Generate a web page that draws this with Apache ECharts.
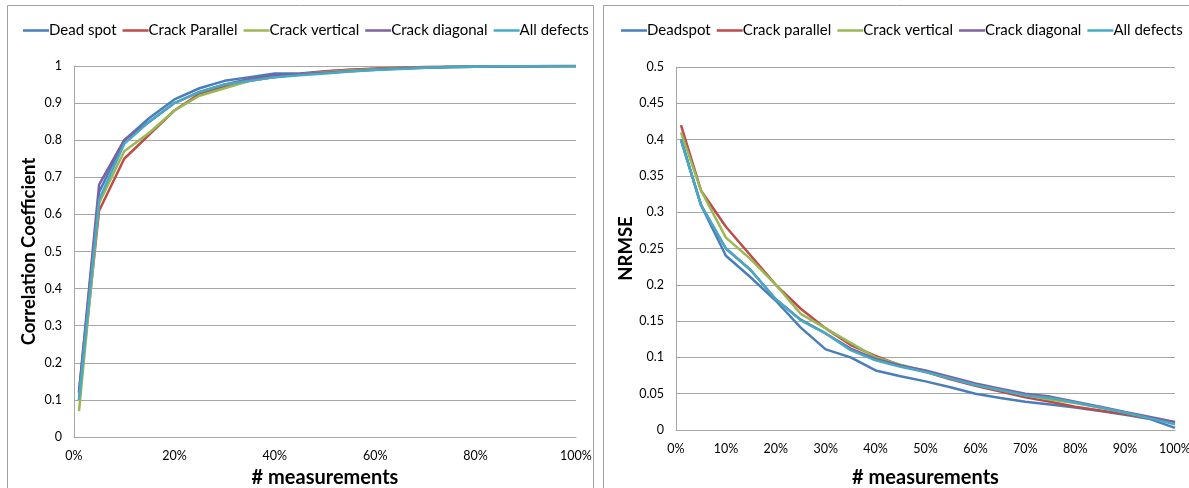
<!DOCTYPE html>
<html>
<head>
<meta charset="utf-8">
<script src="https://cdn.jsdelivr.net/npm/echarts@6/dist/echarts.min.js"></script>
<style>
  html, body { margin: 0; padding: 0; background: #fff; }
  #chart { width: 1189px; height: 488px; }
</style>
</head>
<body>
<div id="chart"></div>
<script>
// Fraction of measurements used (percent)
const measurements = [1, 5, 10, 15, 20, 25, 30, 35, 40, 45, 50, 55, 60, 65, 70, 75, 80, 85, 90, 95, 100];

// Correlation coefficient per defect type
const corrDeadSpot      = [0.12, 0.66, 0.80, 0.86, 0.91, 0.94, 0.96, 0.97, 0.98, 0.98, 0.986, 0.99, 0.992, 0.994, 0.996, 0.997, 0.998, 0.998, 0.999, 0.999, 1.0];
const corrCrackParallel = [0.10, 0.61, 0.75, 0.815, 0.88, 0.925, 0.945, 0.96, 0.97, 0.978, 0.985, 0.99, 0.993, 0.995, 0.997, 0.998, 0.998, 0.999, 0.999, 1.0, 1.0];
const corrCrackVertical = [0.07, 0.63, 0.77, 0.82, 0.88, 0.92, 0.94, 0.96, 0.97, 0.977, 0.983, 0.988, 0.991, 0.994, 0.996, 0.997, 0.998, 0.999, 0.999, 1.0, 1.0];
const corrCrackDiagonal = [0.12, 0.68, 0.80, 0.85, 0.90, 0.93, 0.95, 0.965, 0.975, 0.978, 0.982, 0.986, 0.99, 0.993, 0.995, 0.997, 0.998, 0.999, 0.999, 1.0, 1.0];
const corrAllDefects    = [0.10, 0.64, 0.79, 0.85, 0.90, 0.93, 0.95, 0.96, 0.97, 0.975, 0.98, 0.985, 0.989, 0.992, 0.995, 0.997, 0.998, 0.999, 0.999, 1.0, 1.0];

// NRMSE per defect type
const nrmseDeadspot      = [0.40, 0.31, 0.24, 0.21, 0.178, 0.141, 0.111, 0.10, 0.082, 0.074, 0.067, 0.059, 0.05, 0.044, 0.039, 0.035, 0.031, 0.026, 0.021, 0.015, 0.003];
const nrmseCrackParallel = [0.42, 0.33, 0.28, 0.24, 0.20, 0.167, 0.14, 0.117, 0.102, 0.089, 0.08, 0.07, 0.061, 0.053, 0.045, 0.039, 0.032, 0.027, 0.022, 0.016, 0.01];
const nrmseCrackVertical = [0.41, 0.33, 0.265, 0.235, 0.20, 0.16, 0.14, 0.12, 0.10, 0.09, 0.081, 0.072, 0.063, 0.055, 0.048, 0.042, 0.037, 0.031, 0.024, 0.017, 0.009];
const nrmseCrackDiagonal = [0.40, 0.31, 0.25, 0.22, 0.18, 0.152, 0.133, 0.112, 0.098, 0.089, 0.082, 0.073, 0.064, 0.057, 0.05, 0.046, 0.039, 0.032, 0.025, 0.018, 0.011];
const nrmseAllDefects    = [0.40, 0.31, 0.25, 0.22, 0.18, 0.151, 0.133, 0.11, 0.096, 0.087, 0.08, 0.071, 0.062, 0.055, 0.048, 0.044, 0.038, 0.031, 0.024, 0.016, 0.008];

const leftNames  = ['Dead spot', 'Crack Parallel', 'Crack vertical', 'Crack diagonal', 'All defects'];
const rightNames = ['Deadspot', 'Crack parallel', 'Crack vertical', 'Crack diagonal', 'All defects'];
const palette = ['#4a7ebb', '#be4b48', '#98b954', '#7d60a0', '#46aac5'];

const font = 'Lato, "Open Sans", "Liberation Sans", sans-serif';

function pairs(ys) { return measurements.map((x, i) => [x, ys[i]]); }

function lineSeries(name, ys, idx, color) {
  return {
    name: name, type: 'line', xAxisIndex: idx, yAxisIndex: idx,
    data: pairs(ys), showSymbol: false, symbol: 'none',
    lineStyle: { width: 2.5, color: color }, itemStyle: { color: color },
    animation: false
  };
}

const leftData  = [corrDeadSpot, corrCrackParallel, corrCrackVertical, corrCrackDiagonal, corrAllDefects];
const rightData = [nrmseDeadspot, nrmseCrackParallel, nrmseCrackVertical, nrmseCrackDiagonal, nrmseAllDefects];

const series = [];
leftNames.forEach((n, i) => series.push(lineSeries(n, leftData[i], 0, palette[i])));
rightNames.forEach((n, i) => series.push(lineSeries(n, rightData[i], 1, palette[i])));

const axisText = { color: '#000', fontFamily: font, fontSize: 12.5 };
const gridLine = { show: true, lineStyle: { color: '#a6a6a6', width: 1 } };
const axisLine = { show: true, lineStyle: { color: '#a6a6a6', width: 1 } };
const xNameText = { color: '#000', fontFamily: font, fontSize: 20, fontWeight: 'bold' };
const yNameText = { color: '#000', fontFamily: font, fontSize: 18.5, fontWeight: 'bold' };

const legendBase = {
  top: 18, icon: 'rect', itemWidth: 26, itemHeight: 2.5, itemGap: 6,
  textStyle: { color: '#000', fontFamily: font, fontSize: 15, padding: [0, 0, 0, -5] }
};

const option = {
  backgroundColor: '#fff',
  animation: false,
  graphic: [
    { type: 'rect', shape: { x: 7.5, y: 5.5, width: 586, height: 490 }, style: { fill: 'none', stroke: '#a0a0a0', lineWidth: 1 } },
    { type: 'rect', shape: { x: 603.5, y: 5.5, width: 590, height: 490 }, style: { fill: 'none', stroke: '#a0a0a0', lineWidth: 1 } }
  ],
  legend: [
    Object.assign({}, legendBase, { left: 18, data: leftNames }),
    Object.assign({}, legendBase, { left: 616, data: rightNames })
  ],
  grid: [
    { left: 74, right: 613, top: 66, bottom: 51, containLabel: false, outerBoundsMode: 'none' },
    { left: 676, right: 14, top: 67, bottom: 58, containLabel: false, outerBoundsMode: 'none' }
  ],
  xAxis: [
    {
      gridIndex: 0, type: 'value', min: 0, max: 100, interval: 20,
      name: '# measurements', nameLocation: 'middle', nameGap: 31, nameTextStyle: xNameText,
      axisLine: axisLine, axisTick: { show: false }, splitLine: { show: false },
      axisLabel: Object.assign({ formatter: '{value}%', margin: 12 }, axisText)
    },
    {
      gridIndex: 1, type: 'value', min: 0, max: 100, interval: 10,
      name: '# measurements', nameLocation: 'middle', nameGap: 38, nameTextStyle: xNameText,
      axisLine: axisLine, axisTick: { show: false }, splitLine: { show: false },
      axisLabel: Object.assign({ formatter: '{value}%', margin: 12 }, axisText)
    }
  ],
  yAxis: [
    {
      gridIndex: 0, type: 'value', min: 0, max: 1, interval: 0.1,
      name: 'Correlation Coefficient', nameLocation: 'middle', nameGap: 35, nameTextStyle: yNameText,
      axisLine: axisLine, axisTick: { show: false }, splitLine: gridLine,
      axisLabel: Object.assign({ margin: 12, formatter: v => String(+v.toFixed(2)) }, axisText)
    },
    {
      gridIndex: 1, type: 'value', min: 0, max: 0.5, interval: 0.05,
      name: 'NRMSE', nameLocation: 'middle', nameGap: 37, nameTextStyle: yNameText,
      axisLine: axisLine, axisTick: { show: false }, splitLine: gridLine,
      axisLabel: Object.assign({ margin: 12, formatter: v => String(+v.toFixed(2)) }, axisText)
    }
  ],
  series: series
};

const chart = echarts.init(document.getElementById('chart'), null, { renderer: 'canvas' });
chart.setOption(option);
</script>
</body>
</html>
